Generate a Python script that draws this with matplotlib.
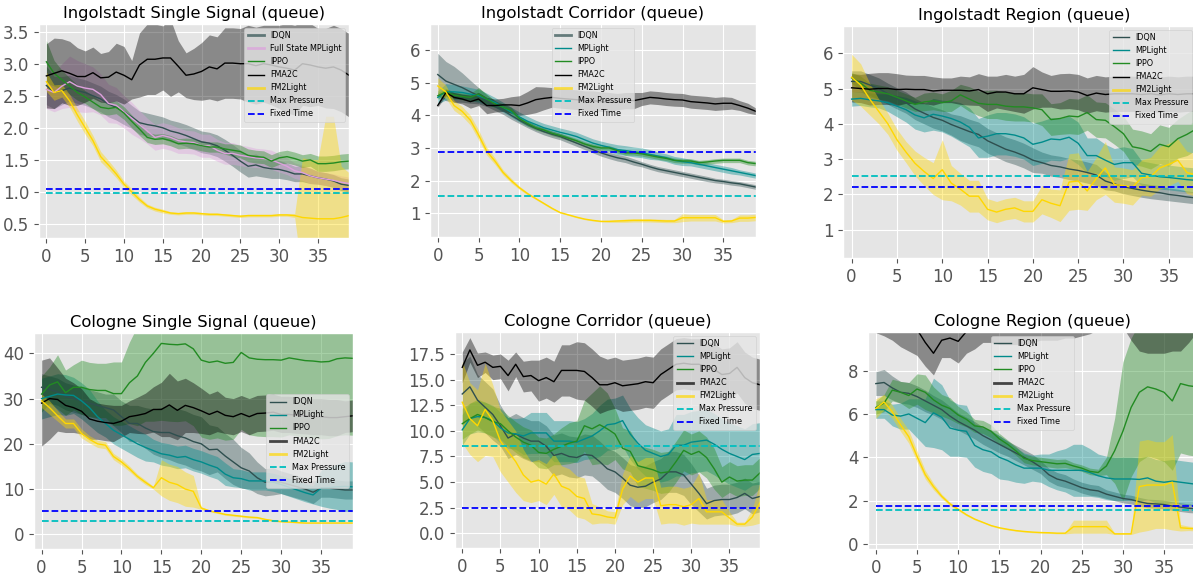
import numpy as np
import matplotlib
matplotlib.use('Agg')
import matplotlib.pyplot as plt

plt.style.use('ggplot')

x = np.arange(40)

# ---------------- Ingolstadt Single Signal ----------------
is_idqn = [2.66, 2.55, 2.58, 2.62, 2.58, 2.55, 2.5, 2.45, 2.37, 2.32, 2.25, 2.17, 2.08, 2.05, 2.03, 2.0, 1.95, 1.92, 1.88, 1.83,
           1.78, 1.76, 1.72, 1.65, 1.57, 1.48, 1.4, 1.42, 1.38, 1.36, 1.35, 1.32, 1.28, 1.28, 1.25, 1.22, 1.2, 1.17, 1.12, 1.1]
is_idqn_sd = [0.3, 0.25, 0.22, 0.2, 0.2, 0.2, 0.2, 0.2, 0.2, 0.2, 0.2, 0.18, 0.18, 0.18, 0.17, 0.17, 0.17, 0.17, 0.17, 0.17,
              0.17, 0.17, 0.17, 0.17, 0.17, 0.17, 0.17, 0.17, 0.15, 0.15, 0.14, 0.13, 0.12, 0.12, 0.12, 0.1, 0.1, 0.1, 0.1, 0.1]
is_fsmp = [2.6, 2.55, 2.65, 2.72, 2.65, 2.62, 2.6, 2.52, 2.38, 2.35, 2.25, 2.15, 2.05, 1.95, 1.85, 1.88, 1.85, 1.8, 1.78, 1.77,
           1.72, 1.72, 1.65, 1.6, 1.6, 1.57, 1.55, 1.53, 1.52, 1.5, 1.45, 1.4, 1.33, 1.3, 1.25, 1.22, 1.2, 1.18, 1.15, 1.13]
is_fsmp_sd = [0.3, 0.3, 0.35, 0.4, 0.4, 0.38, 0.35, 0.32, 0.3, 0.28, 0.25, 0.25, 0.22, 0.2, 0.2, 0.2, 0.2, 0.2, 0.18, 0.18,
              0.18, 0.18, 0.17, 0.17, 0.17, 0.16, 0.16, 0.15, 0.15, 0.15, 0.14, 0.13, 0.12, 0.12, 0.12, 0.1, 0.1, 0.1, 0.1, 0.1]
is_ippo = [3.03, 2.85, 2.75, 2.65, 2.55, 2.48, 2.4, 2.32, 2.3, 2.32, 2.23, 2.1, 1.98, 1.85, 1.82, 1.83, 1.8, 1.75, 1.76, 1.75,
           1.72, 1.7, 1.7, 1.67, 1.65, 1.63, 1.57, 1.55, 1.54, 1.48, 1.53, 1.55, 1.52, 1.48, 1.5, 1.44, 1.44, 1.45, 1.47, 1.48]
is_ippo_sd = [0.33, 0.2, 0.15, 0.13, 0.12, 0.1, 0.1, 0.1, 0.1, 0.1, 0.1, 0.1, 0.1, 0.08, 0.08, 0.08, 0.08, 0.08, 0.08, 0.08,
              0.08, 0.08, 0.08, 0.08, 0.1, 0.1, 0.1, 0.1, 0.1, 0.1, 0.1, 0.1, 0.1, 0.1, 0.1, 0.12, 0.12, 0.12, 0.12, 0.12]
is_fma2c = [2.81, 2.85, 2.89, 2.85, 2.8, 2.8, 2.86, 2.78, 2.79, 2.87, 2.82, 2.75, 2.98, 3.07, 3.07, 3.09, 3.09, 2.96, 2.82, 2.84,
            2.88, 2.95, 2.92, 3.01, 3.01, 3.0, 3.0, 2.97, 3.0, 2.98, 2.95, 2.93, 2.9, 3.0, 2.98, 2.95, 2.93, 2.95, 2.9, 2.82]
is_fma2c_sd = [0.5, 0.55, 0.5, 0.5, 0.45, 0.4, 0.4, 0.38, 0.4, 0.45, 0.45, 0.3, 0.5, 0.55, 0.55, 0.5, 0.6, 0.4, 0.35, 0.4,
               0.45, 0.5, 0.5, 0.55, 0.55, 0.55, 0.6, 0.6, 0.6, 0.62, 0.65, 0.7, 0.7, 0.65, 0.65, 0.6, 0.62, 0.65, 0.65, 0.65]
is_fm2l = [2.72, 2.55, 2.58, 2.42, 2.2, 2.0, 1.8, 1.55, 1.42, 1.28, 1.12, 1.0, 0.88, 0.78, 0.73, 0.7, 0.67, 0.66, 0.67, 0.67,
           0.66, 0.65, 0.65, 0.64, 0.63, 0.62, 0.63, 0.63, 0.63, 0.63, 0.64, 0.64, 0.63, 0.6, 0.59, 0.58, 0.58, 0.58, 0.6, 0.63]
is_fm2l_sd = [0.15, 0.12, 0.1, 0.1, 0.1, 0.1, 0.08, 0.08, 0.07, 0.06, 0.05, 0.05, 0.04, 0.03, 0.03, 0.03, 0.02, 0.02, 0.02, 0.02,
              0.02, 0.02, 0.02, 0.02, 0.02, 0.02, 0.02, 0.02, 0.02, 0.02, 0.02, 0.02, 0.03, 0.93, 0.92, 0.92, 1.6, 1.6, 0.8, 0.67]
is_mp, is_ft = 0.99, 1.04

# ---------------- Ingolstadt Corridor ----------------
ic_idqn = [5.25, 5.05, 4.95, 4.85, 4.72, 4.6, 4.45, 4.3, 4.15, 4.0, 3.85, 3.72, 3.6, 3.5, 3.42, 3.35, 3.25, 3.15, 3.05, 2.95,
           2.85, 2.77, 2.7, 2.65, 2.57, 2.5, 2.42, 2.35, 2.3, 2.25, 2.2, 2.15, 2.1, 2.05, 2.0, 1.97, 1.93, 1.9, 1.85, 1.8]
ic_idqn_sd = [0.65, 0.6, 0.55, 0.45, 0.35, 0.25, 0.18, 0.15, 0.12, 0.12, 0.1, 0.1, 0.1, 0.1, 0.1, 0.1, 0.1, 0.1, 0.1, 0.1,
              0.1, 0.1, 0.1, 0.1, 0.1, 0.08, 0.08, 0.08, 0.08, 0.08, 0.08, 0.08, 0.08, 0.08, 0.07, 0.07, 0.07, 0.07, 0.07, 0.07]
ic_mpl = [4.55, 4.72, 4.72, 4.7, 4.65, 4.6, 4.5, 4.4, 4.25, 4.1, 3.95, 3.82, 3.72, 3.62, 3.55, 3.48, 3.42, 3.35, 3.25, 3.15,
          3.08, 3.02, 2.95, 2.92, 2.88, 2.85, 2.8, 2.75, 2.7, 2.62, 2.58, 2.55, 2.5, 2.45, 2.4, 2.35, 2.3, 2.25, 2.2, 2.15]
ic_mpl_sd = [0.2, 0.25, 0.22, 0.2, 0.2, 0.2, 0.18, 0.15, 0.15, 0.15, 0.15, 0.15, 0.13, 0.13, 0.13, 0.13, 0.13, 0.13, 0.13, 0.13,
             0.13, 0.13, 0.15, 0.15, 0.15, 0.15, 0.15, 0.12, 0.12, 0.12, 0.12, 0.1, 0.1, 0.1, 0.1, 0.1, 0.1, 0.08, 0.08, 0.08]
ic_ippo = [4.6, 4.72, 4.62, 4.58, 4.55, 4.65, 4.5, 4.35, 4.25, 4.15, 3.9, 3.75, 3.62, 3.55, 3.45, 3.38, 3.3, 3.22, 3.12, 3.05,
           3.0, 3.0, 2.92, 2.85, 2.85, 2.82, 2.77, 2.72, 2.68, 2.62, 2.6, 2.6, 2.55, 2.57, 2.6, 2.62, 2.62, 2.62, 2.55, 2.52]
ic_ippo_sd = [0.1, 0.1, 0.1, 0.1, 0.12, 0.2, 0.15, 0.1, 0.1, 0.1, 0.08, 0.08, 0.07, 0.07, 0.07, 0.07, 0.07, 0.07, 0.07, 0.07,
              0.07, 0.07, 0.07, 0.07, 0.07, 0.07, 0.07, 0.07, 0.07, 0.07, 0.07, 0.07, 0.07, 0.07, 0.07, 0.07, 0.07, 0.07, 0.07, 0.07]
ic_fma2c = [4.3, 4.7, 4.55, 4.5, 4.42, 4.5, 4.3, 4.3, 4.32, 4.32, 4.3, 4.38, 4.48, 4.52, 4.55, 4.52, 4.5, 4.48, 4.45, 4.45,
            4.42, 4.4, 4.42, 4.45, 4.45, 4.5, 4.55, 4.53, 4.5, 4.48, 4.47, 4.42, 4.4, 4.38, 4.35, 4.37, 4.37, 4.3, 4.22, 4.12]
ic_fma2c_sd = [0.05, 0.1, 0.15, 0.15, 0.2, 0.2, 0.25, 0.2, 0.2, 0.25, 0.3, 0.35, 0.4, 0.35, 0.3, 0.3, 0.3, 0.3, 0.3, 0.3,
               0.3, 0.3, 0.25, 0.25, 0.25, 0.2, 0.2, 0.2, 0.2, 0.2, 0.2, 0.2, 0.2, 0.2, 0.2, 0.2, 0.18, 0.15, 0.15, 0.1]
ic_fm2l = [4.9, 4.72, 4.3, 4.12, 3.85, 3.4, 2.9, 2.6, 2.25, 2.0, 1.78, 1.6, 1.45, 1.3, 1.15, 1.02, 0.95, 0.88, 0.82, 0.78,
           0.75, 0.75, 0.76, 0.77, 0.78, 0.78, 0.78, 0.77, 0.76, 0.76, 0.86, 0.86, 0.86, 0.86, 0.86, 0.75, 0.76, 0.85, 0.85, 0.87]
ic_fm2l_sd = [0.25, 0.2, 0.15, 0.15, 0.15, 0.15, 0.12, 0.1, 0.08, 0.07, 0.05, 0.04, 0.03, 0.03, 0.03, 0.02, 0.02, 0.02, 0.02, 0.02,
              0.02, 0.03, 0.04, 0.05, 0.05, 0.05, 0.05, 0.05, 0.05, 0.05, 0.12, 0.1, 0.1, 0.1, 0.1, 0.05, 0.05, 0.1, 0.1, 0.1]
ic_mp, ic_ft = 1.54, 2.87

# ---------------- Ingolstadt Region ----------------
ir_idqn = [5.2, 5.2, 5.1, 5.0, 4.85, 4.72, 4.6, 4.42, 4.3, 4.18, 4.1, 3.98, 3.88, 3.78, 3.7, 3.52, 3.4, 3.28, 3.2, 3.1,
           2.97, 2.9, 2.82, 2.78, 2.72, 2.68, 2.62, 2.55, 2.38, 2.3, 2.22, 2.17, 2.12, 2.08, 2.05, 2.0, 1.97, 1.93, 1.9, 1.88]
ir_idqn_sd = [0.3, 0.3, 0.3, 0.3, 0.3, 0.3, 0.3, 0.3, 0.3, 0.3, 0.3, 0.3, 0.35, 0.35, 0.35, 0.35, 0.35, 0.35, 0.35, 0.35,
              0.35, 0.3, 0.3, 0.3, 0.3, 0.3, 0.3, 0.3, 0.25, 0.2, 0.2, 0.2, 0.2, 0.2, 0.2, 0.18, 0.18, 0.17, 0.17, 0.17]
ir_mpl = [4.7, 4.72, 4.68, 4.65, 4.6, 4.5, 4.4, 4.25, 4.17, 4.27, 4.22, 4.15, 4.05, 3.9, 3.6, 3.65, 3.72, 3.72, 3.68, 3.6,
          3.42, 3.48, 3.57, 3.55, 3.62, 3.45, 3.1, 3.1, 2.97, 2.85, 2.9, 2.9, 2.6, 2.55, 2.5, 2.48, 2.45, 2.42, 2.4, 2.38]
ir_mpl_sd = [0.2, 0.2, 0.2, 0.2, 0.25, 0.3, 0.35, 0.4, 0.4, 0.45, 0.45, 0.5, 0.55, 0.55, 0.55, 0.6, 0.6, 0.6, 0.6, 0.6,
             0.6, 0.6, 0.6, 0.6, 0.6, 0.6, 0.5, 0.5, 0.45, 0.45, 0.45, 0.4, 0.35, 0.35, 0.35, 0.35, 0.35, 0.35, 0.35, 0.35]
ir_ippo = [5.3, 5.15, 4.95, 4.9, 4.85, 4.75, 4.65, 4.55, 4.62, 4.65, 4.6, 4.65, 4.82, 4.7, 4.58, 4.55, 4.55, 4.5, 4.48, 4.48,
           4.45, 4.4, 4.12, 4.15, 4.22, 4.2, 4.32, 4.12, 4.1, 3.92, 3.72, 3.35, 3.3, 3.22, 3.42, 3.35, 3.58, 3.7, 3.85, 3.9]
ir_ippo_sd = [0.15, 0.2, 0.2, 0.2, 0.2, 0.2, 0.2, 0.2, 0.25, 0.25, 0.25, 0.3, 0.3, 0.35, 0.35, 0.4, 0.4, 0.4, 0.4, 0.4,
              0.4, 0.45, 0.45, 0.45, 0.5, 0.5, 0.5, 0.5, 0.5, 0.5, 0.5, 0.5, 0.5, 0.5, 0.55, 0.55, 0.55, 0.6, 0.6, 0.6]
ir_fma2c = [5.02, 5.0, 4.98, 5.0, 5.0, 4.97, 4.98, 4.97, 4.97, 4.93, 4.95, 4.95, 4.95, 4.93, 4.97, 4.85, 4.9, 4.9, 4.85, 4.85,
            5.02, 4.97, 4.92, 4.92, 4.93, 4.9, 4.8, 4.87, 4.83, 4.85, 4.85, 4.85, 4.83, 4.85, 4.82, 4.85, 4.83, 4.85, 4.85, 4.82]
ir_fma2c_sd = [0.4, 0.4, 0.45, 0.45, 0.45, 0.45, 0.4, 0.4, 0.4, 0.4, 0.35, 0.35, 0.4, 0.4, 0.45, 0.5, 0.45, 0.5, 0.5, 0.55,
               0.6, 0.5, 0.45, 0.5, 0.5, 0.5, 0.5, 0.5, 0.5, 0.5, 0.5, 0.5, 0.5, 0.5, 0.5, 0.5, 0.5, 0.5, 0.5, 0.55]
ir_fm2l = [5.32, 5.1, 4.7, 4.35, 4.0, 3.55, 3.2, 2.88, 2.65, 2.45, 2.7, 2.32, 2.15, 1.95, 1.95, 1.58, 1.5, 1.58, 1.62, 1.52,
           1.52, 1.85, 1.75, 1.68, 2.35, 2.38, 2.1, 2.45, 2.75, 2.28, 2.25, 2.2, 2.48, 2.5, 2.75, 2.85, 2.97, 2.62, 2.55, 2.4]
ir_fm2l_sd = [0.65, 0.6, 0.45, 0.35, 0.3, 0.3, 0.3, 0.35, 0.4, 0.45, 0.85, 0.5, 0.45, 0.45, 0.45, 0.3, 0.3, 0.3, 0.3, 0.3,
              0.3, 0.4, 0.4, 0.45, 0.8, 0.8, 0.55, 0.6, 0.75, 0.5, 0.5, 0.5, 0.5, 0.55, 0.6, 0.6, 0.6, 0.6, 0.6, 0.6]
ir_mp, ir_ft = 2.51, 2.21

# ---------------- Cologne Single Signal ----------------
cs_idqn = [32.5, 32, 31.5, 30.5, 30, 29.5, 29, 28.5, 28, 27.5, 26, 24.5, 24.5, 23.5, 22.7, 22.5, 22.5, 21.8, 21.3, 20.5,
           20, 18.7, 18.8, 17.3, 16, 14.7, 14, 12.5, 11.5, 11.7, 11.5, 11, 10.5, 10, 9.3, 10.2, 10.2, 10, 9.8, 9.8]
cs_idqn_sd = [3, 3, 3, 3, 3, 3, 3, 3, 3, 3.5, 3.5, 4, 4, 4.5, 5, 5.5, 6, 6, 6, 6,
              6, 5.5, 5, 5, 5, 4.5, 4, 3.5, 3, 3, 2.5, 2.5, 2.5, 2.5, 2.5, 2, 2, 2, 2, 2]
cs_mpl = [30, 30.5, 31, 30.8, 30.7, 29.5, 28, 26, 24.5, 23, 22, 21, 20, 19.2, 18.5, 17.8, 17.5, 17, 17.2, 16.5,
          16, 15.3, 14.7, 13.3, 12.5, 12.3, 11.8, 11.8, 11.8, 11.5, 11, 10.4, 9.8, 9.2, 8.7, 10.2, 10.3, 10.5, 10.6, 10.5]
cs_mpl_sd = [4.5, 4.5, 4.5, 4.5, 4, 4, 4, 3.5, 3, 3, 3, 3, 3, 3, 2.5, 2.5, 2.5, 2.5, 2.5, 2.5,
             2.5, 2.5, 2.5, 2.5, 2, 2, 2, 2, 2, 2, 2, 2, 2, 2, 2, 4, 4.5, 5, 5.5, 5.5]
cs_ippo = [31, 33, 33.7, 31.3, 32.5, 32.5, 32, 31.8, 31.8, 31.1, 31.1, 33.5, 35, 38, 40, 42.2, 42, 41.9, 42.1, 41,
           38.5, 38, 38.3, 37.8, 38, 40.2, 39, 38.7, 38.6, 38.6, 38.5, 39, 38.7, 38.4, 38.3, 38.1, 38.2, 38.8, 39, 38.9]
cs_ippo_sd = [4, 4, 6, 5, 5, 6, 6, 6, 6, 7, 7, 9, 11, 13, 15, 17, 17, 17, 17, 17,
              17, 17, 17, 17, 17, 17, 17, 17, 17, 17, 17, 17, 17, 17, 17, 17, 17, 17, 17, 17]
cs_fma2c = [29, 30, 29.8, 28.5, 28, 27.2, 25.5, 25, 24.7, 24.5, 25, 26, 26.3, 26.7, 27.6, 27.6, 28.6, 27.4, 28.5, 28,
            27.3, 26.5, 27.2, 26.3, 26, 26.7, 26, 26.7, 26.8, 27, 26.5, 26.5, 26.3, 26.2, 26, 26, 25.8, 25.8, 26, 26.2]
cs_fma2c_sd = [9.5, 9, 7, 6, 5.5, 5, 4.5, 4, 4, 4, 3.5, 3.5, 4, 4.5, 5, 6, 7, 6.5, 6, 5.5,
               5, 4.5, 4.5, 4, 4, 4, 4, 4, 4, 4, 4, 4, 4, 4, 4, 4, 4, 4, 3.5, 3.5]
cs_fm2l = [29.5, 28, 26.2, 24.5, 24.5, 22.3, 21, 20, 19.7, 17.2, 16, 14.5, 12.8, 11.5, 10.3, 12.5, 11.5, 11, 10, 9.5,
           5.8, 5.2, 4.8, 4.4, 4.2, 4, 3.8, 3.7, 3.3, 3, 2.8, 2.7, 2.6, 2.5, 2.5, 2.5, 2.5, 2.5, 2.5, 2.5]
cs_fm2l_sd = [1.5, 1.5, 1.2, 1, 1, 1, 0.8, 0.8, 0.8, 0.7, 0.7, 0.6, 0.5, 0.5, 0.3, 4, 4, 4, 3.8, 3.5,
              0.3, 0.2, 0.2, 0.2, 0.2, 0.2, 0.2, 0.2, 0.2, 0.2, 0.1, 0.1, 0.1, 0.1, 0.1, 0.1, 0.1, 0.1, 0.1, 0.1]
cs_mp, cs_ft = 2.87, 5.16

# ---------------- Cologne Corridor ----------------
cc_idqn = [13.6, 14.3, 13, 12.3, 11.6, 10.5, 9.3, 9.7, 9.3, 9.0, 9.0, 8.5, 7.6, 7.8, 7.5, 7.4, 7.7, 7.6, 7.0, 6.3,
           6.0, 5.4, 4.7, 4.5, 4.6, 5.0, 5.3, 6.0, 6.0, 5.7, 4.8, 3.9, 2.9, 3.2, 3.3, 3.3, 3.5, 3.9, 3.4, 3.6]
cc_idqn_sd = [3, 3, 2.5, 2.5, 2.5, 2, 2, 2, 2, 2, 2, 2, 2, 2, 2, 2, 2, 2, 2, 2,
              2, 2, 2, 2, 2, 2, 2, 2, 2, 2, 2, 1.8, 1.5, 1.5, 1.5, 1.5, 1.5, 1.5, 1.5, 1.5]
cc_mpl = [10.1, 11.2, 11.4, 11.3, 11.0, 10.3, 9.8, 9.7, 9.5, 9.8, 9.8, 9.8, 9.0, 9.0, 9.0, 8.9, 9.2, 9.5, 10.0, 10.6,
          10.7, 11.0, 9.7, 8.8, 8.1, 7.8, 7.5, 7.7, 8.6, 8.6, 8.9, 9.0, 9.1, 8.7, 8.2, 7.8, 7.5, 7.2, 7.7, 7.8]
cc_mpl_sd = [1.5, 1.5, 1.5, 1.5, 1.5, 1.5, 1.5, 1.5, 1.8, 2, 2, 2, 2, 2, 2, 2, 2, 2.2, 2.5, 2.5,
             2.5, 2.5, 2.5, 2.5, 2.5, 2.5, 2.5, 2.5, 3, 3, 3, 3, 3, 3, 3, 3, 3, 3, 3, 3]
cc_ippo = [10.7, 11.2, 11.6, 11.3, 10.9, 10.7, 10.0, 9.4, 8.9, 8.6, 7.9, 7.8, 8.2, 8.5, 8.8, 9.0, 10.5, 10.2, 10.6, 10.2,
           9.7, 8.3, 8.0, 6.6, 6.4, 6.2, 5.9, 6.0, 7.0, 8.1, 7.7, 8.0, 7.4, 6.3, 5.0, 5.5, 5.1, 5.2, 5.2, 5.9]
cc_ippo_sd = [1.5, 1.5, 1.5, 1.5, 1.5, 1.5, 1.5, 1.5, 1.5, 1.5, 1.5, 1.5, 1.5, 1.8, 2, 2, 2.5, 3.5, 3.8, 3.5,
              2.5, 2, 2, 2, 2, 2, 2, 2, 2, 2, 2, 2, 2, 2, 1.5, 1.5, 1.5, 1.5, 1.5, 1.5]
cc_fma2c = [16.2, 17.9, 16.4, 16.7, 16.2, 16.3, 15.4, 16.5, 15.3, 15.4, 14.9, 15.2, 14.8, 15.9, 15.9, 15.9, 15.8, 15.2, 14.5, 14.5,
            14.7, 14.4, 14.5, 14.6, 14.8, 14.7, 15.5, 16.0, 16.5, 16.6, 16.5, 16.5, 16.3, 16.0, 15.5, 15.6, 16.2, 15.2, 14.7, 14.5]
cc_fma2c_sd = [1.5, 1.2, 1.2, 1.0, 1.2, 1.2, 1.5, 1.2, 1.5, 1.5, 2, 2, 2, 2.5, 2.5, 2.8, 2.8, 2.8, 2.8, 2.5,
               2.5, 2.5, 2.5, 2.5, 2.5, 2.5, 2.5, 2.5, 2.5, 2.5, 2.5, 2.5, 2.5, 2.5, 2.5, 2.5, 2.5, 2.5, 2.5, 2.5]
cc_fm2l = [12.8, 11.2, 10.5, 12.1, 11.0, 9.0, 8.0, 7.0, 5.7, 5.0, 5.2, 4.8, 5.8, 4.6, 4.3, 3.6, 3.4, 1.9, 1.8, 1.6,
           1.5, 4.3, 5.6, 5.0, 5.4, 5.4, 2.7, 2.8, 2.8, 2.6, 2.8, 3.4, 2.1, 2.1, 2.1, 1.5, 0.9, 0.9, 1.6, 3.0]
cc_fm2l_sd = [4, 3.5, 3.5, 4.5, 3.5, 3, 3, 3, 2.5, 2, 2, 2, 2, 2, 2, 2, 2, 1, 0.8, 0.6,
              0.6, 1.5, 2, 2, 2, 2, 1.8, 1.8, 1.8, 1.8, 1.8, 2.5, 1.2, 1.2, 1.2, 0.6, 0.2, 0.2, 0.8, 2]
cc_mp, cc_ft = 8.55, 2.47

# ---------------- Cologne Region ----------------
cr_idqn = [7.4, 7.45, 7.2, 7.0, 6.95, 6.8, 6.6, 6.4, 6.2, 5.9, 5.65, 5.45, 5.25, 5.0, 4.8, 4.6, 4.4, 4.2, 4.0, 3.8,
           3.55, 3.2, 3.0, 2.9, 2.75, 2.6, 2.5, 2.45, 2.3, 2.2, 2.1, 2.05, 1.95, 1.87, 1.85, 1.82, 1.75, 1.7, 1.65, 1.62]
cr_idqn_sd = [0.55, 0.6, 0.55, 0.5, 0.5, 0.5, 0.5, 0.45, 0.45, 0.45, 0.4, 0.4, 0.4, 0.4, 0.4, 0.4, 0.35, 0.35, 0.35, 0.35,
              0.3, 0.3, 0.3, 0.3, 0.25, 0.25, 0.25, 0.25, 0.2, 0.2, 0.2, 0.2, 0.2, 0.2, 0.2, 0.2, 0.2, 0.2, 0.2, 0.2]
cr_mpl = [6.2, 6.2, 5.95, 5.9, 6.0, 5.8, 5.6, 6.05, 5.85, 5.35, 5.25, 5.2, 4.55, 4.35, 4.25, 4.0, 3.85, 3.65, 3.5, 3.5,
          3.5, 3.4, 3.4, 3.4, 3.4, 3.4, 3.3, 3.15, 3.05, 3.0, 3.0, 3.0, 2.98, 3.05, 2.9, 2.85, 2.9, 2.85, 2.8, 2.75]
cr_mpl_sd = [0.4, 0.4, 0.5, 0.6, 0.7, 0.9, 1.1, 1.6, 1.5, 1.3, 1.2, 1.2, 1.0, 1.0, 1.0, 1.0, 0.9, 0.8, 0.7, 0.6,
             0.65, 0.75, 0.9, 1.0, 1.2, 1.2, 1.1, 1.0, 1.0, 1.0, 1.0, 1.0, 1.0, 1.0, 1.0, 1.0, 1.0, 1.0, 1.0, 1.0]
cr_ippo = [6.3, 6.5, 7.1, 7.0, 6.85, 7.15, 7.0, 6.65, 6.4, 6.25, 5.95, 5.75, 5.45, 5.4, 5.2, 4.85, 4.6, 4.3, 3.95, 3.85,
           3.8, 3.75, 3.7, 3.72, 3.6, 3.5, 3.35, 3.3, 3.6, 4.3, 5.2, 6.3, 7.0, 7.25, 7.15, 7.0, 6.6, 7.4, 7.3, 7.25]
cr_ippo_sd = [0.3, 0.4, 0.5, 0.5, 0.6, 0.7, 0.8, 0.6, 0.5, 0.5, 0.4, 0.35, 0.3, 0.3, 0.3, 0.25, 0.2, 0.2, 0.2, 0.2,
              0.2, 0.2, 0.2, 0.2, 0.15, 0.15, 0.15, 0.15, 0.4, 1.5, 3.2, 3.2, 3.2, 3.2, 3.2, 3.2, 3.2, 3.2, 3.2, 3.2]
cr_fma2c = [11.5, 11.3, 11.0, 10.6, 10.3, 9.9, 9.3, 8.8, 9.4, 9.5, 9.35, 9.8, 10.2, 10.5, 10.6, 10.5, 10.6, 10.7, 10.8, 10.9,
            11.0, 11.0, 11.0, 11.1, 11.1, 11.2, 11.2, 11.3, 11.4, 11.4, 11.3, 10.8, 10.4, 10.3, 10.3, 10.3, 10.4, 10.4, 10.6, 10.8]
cr_fma2c_sd = [1.75, 1.7, 1.6, 1.5, 1.4, 1.2, 1.1, 1.0, 0.8, 0.9, 1.0, 1.0, 1.2, 1.2, 1.3, 1.3, 1.4, 1.5, 1.6, 1.6,
               1.6, 1.6, 1.6, 1.6, 1.6, 1.6, 1.5, 1.4, 1.3, 1.3, 1.3, 1.4, 1.5, 1.5, 1.5, 1.5, 1.5, 1.5, 1.3, 1.0]
cr_fm2l = [6.25, 6.55, 6.1, 5.5, 4.95, 4.05, 3.2, 2.65, 2.2, 1.85, 1.6, 1.35, 1.15, 1.0, 0.85, 0.75, 0.68, 0.62, 0.58, 0.55,
           0.53, 0.52, 0.5, 0.5, 0.8, 0.8, 0.8, 0.8, 0.8, 0.47, 0.47, 0.47, 2.65, 2.72, 2.72, 2.72, 2.85, 0.75, 0.72, 0.7]
cr_fm2l_sd = [0.45, 0.35, 0.3, 0.3, 0.3, 0.25, 0.2, 0.15, 0.1, 0.08, 0.06, 0.05, 0.04, 0.03, 0.03, 0.03, 0.03, 0.03, 0.03, 0.03,
              0.03, 0.03, 0.03, 0.03, 0.3, 0.3, 0.3, 0.3, 0.3, 0.03, 0.03, 0.03, 2.1, 2.1, 2.0, 2.0, 2.2, 0.15, 0.1, 0.1]
cr_mp, cr_ft = 1.55, 1.74

C_IDQN = 'darkslategray'
C_FSMP = 'plum'
C_MPL = 'darkcyan'
C_IPPO = 'forestgreen'
C_FMA2C = 'black'
C_FM2L = 'gold'

W, H = 1193, 576
fig = plt.figure(figsize=(W / 100, H / 100), dpi=100)


def box(l, t, r, b):
    return [l / W, 1 - b / H, (r - l) / W, (b - t) / H]


def panel(rect, title, series, mp, ft, ylim, yticks, loc, thick, anchor=None):
    ax = fig.add_axes(box(*rect))
    for label, mean, sd, col in series:
        m = np.array(mean)
        s = np.array(sd)
        ax.fill_between(x, m - s, m + s, color=col, alpha=0.4, lw=0)
        ax.plot(x, m, color=col, lw=1, label=label)
    ax.hlines(mp, 0, 39, colors='c', linestyles='--', lw=1.3, label='Max Pressure')
    ax.hlines(ft, 0, 39, colors='b', linestyles='--', lw=1.3, label='Fixed Time')
    ax.set_xlim(-0.95, 39)
    ax.set_ylim(*ylim)
    ax.set_xticks(range(0, 40, 5))
    ax.set_yticks(yticks)
    ax.tick_params(labelsize=12, colors='#555555')
    ax.set_title(title, fontsize=11.8, color='black', pad=4)
    if anchor is None:
        leg = ax.legend(loc=loc, fontsize=5.8, framealpha=0.8, handlelength=2.0)
    else:
        leg = ax.legend(loc=loc, bbox_to_anchor=anchor, fontsize=5.8, framealpha=0.8, handlelength=2.0)
    for line, txt in zip(leg.get_lines(), leg.get_texts()):
        if txt.get_text() in thick:
            line.set_linewidth(2)
            line.set_alpha(0.7)
    return ax


panel((39, 24, 349, 238), 'Ingolstadt Single Signal (queue)',
      [('IDQN', is_idqn, is_idqn_sd, C_IDQN), ('Full State MPLight', is_fsmp, is_fsmp_sd, C_FSMP),
       ('IPPO', is_ippo, is_ippo_sd, C_IPPO), ('FMA2C', is_fma2c, is_fma2c_sd, C_FMA2C),
       ('FM2Light', is_fm2l, is_fm2l_sd, C_FM2L)],
      is_mp, is_ft, (0.28, 3.62), [0.5, 1.0, 1.5, 2.0, 2.5, 3.0, 3.5], 'upper right',
      ['IDQN', 'Full State MPLight', 'FM2Light'])

panel((430, 24, 756, 237), 'Ingolstadt Corridor (queue)',
      [('IDQN', ic_idqn, ic_idqn_sd, C_IDQN), ('MPLight', ic_mpl, ic_mpl_sd, C_MPL),
       ('IPPO', ic_ippo, ic_ippo_sd, C_IPPO), ('FMA2C', ic_fma2c, ic_fma2c_sd, C_FMA2C),
       ('FM2Light', ic_fm2l, ic_fm2l_sd, C_FM2L)],
      ic_mp, ic_ft, (0.27, 6.8), [1, 2, 3, 4, 5, 6], 'upper center',
      ['IDQN', 'FM2Light'])

panel((843, 26, 1205, 258), 'Ingolstadt Region (queue)',
      [('IDQN', ir_idqn, ir_idqn_sd, C_IDQN), ('MPLight', ir_mpl, ir_mpl_sd, C_MPL),
       ('IPPO', ir_ippo, ir_ippo_sd, C_IPPO), ('FMA2C', ir_fma2c, ir_fma2c_sd, C_FMA2C),
       ('FM2Light', ir_fm2l, ir_fm2l_sd, C_FM2L)],
      ir_mp, ir_ft, (0.2, 6.77), [1, 2, 3, 4, 5, 6], 'upper right',
      ['FM2Light'], anchor=(0.975, 1.0))

panel((34, 333, 353, 549), 'Cologne Single Signal (queue)',
      [('IDQN', cs_idqn, cs_idqn_sd, C_IDQN), ('MPLight', cs_mpl, cs_mpl_sd, C_MPL),
       ('IPPO', cs_ippo, cs_ippo_sd, C_IPPO), ('FMA2C', cs_fma2c, cs_fma2c_sd, C_FMA2C),
       ('FM2Light', cs_fm2l, cs_fm2l_sd, C_FM2L)],
      cs_mp, cs_ft, (-3.25, 44.5), [0, 10, 20, 30, 40], 'center right',
      ['FMA2C', 'FM2Light'])

panel((455, 332, 760, 548), 'Cologne Corridor (queue)',
      [('IDQN', cc_idqn, cc_idqn_sd, C_IDQN), ('MPLight', cc_mpl, cc_mpl_sd, C_MPL),
       ('IPPO', cc_ippo, cc_ippo_sd, C_IPPO), ('FMA2C', cc_fma2c, cc_fma2c_sd, C_FMA2C),
       ('FM2Light', cc_fm2l, cc_fm2l_sd, C_FM2L)],
      cc_mp, cc_ft, (-1.43, 19.65), [0.0, 2.5, 5.0, 7.5, 10.0, 12.5, 15.0, 17.5], 'upper right',
      ['FMA2C', 'FM2Light'])

panel((868, 332, 1197, 549), 'Cologne Region (queue)',
      [('IDQN', cr_idqn, cr_idqn_sd, C_IDQN), ('MPLight', cr_mpl, cr_mpl_sd, C_MPL),
       ('IPPO', cr_ippo, cr_ippo_sd, C_IPPO), ('FMA2C', cr_fma2c, cr_fma2c_sd, C_FMA2C),
       ('FM2Light', cr_fm2l, cr_fm2l_sd, C_FM2L)],
      cr_mp, cr_ft, (-0.23, 9.78), [0, 2, 4, 6, 8], 'upper center',
      ['FMA2C', 'FM2Light'])

fig.savefig('out.png', dpi=100)
